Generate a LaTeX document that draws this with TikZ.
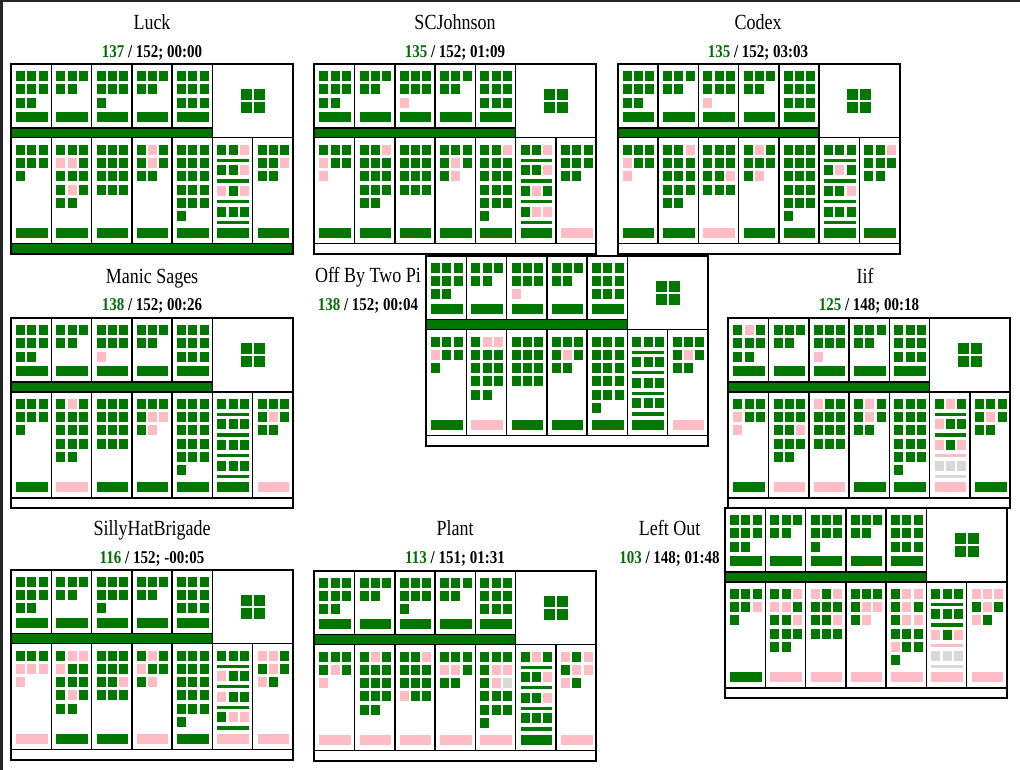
\documentclass[tikz,border=0pt]{standalone}
\usepackage{fontspec}
\setmainfont{Liberation Serif}
\definecolor{G}{RGB}{0,120,0}
\definecolor{P}{RGB}{255,188,196}
\definecolor{X}{RGB}{216,216,216}
\definecolor{W}{RGB}{255,255,255}
\definecolor{tgreen}{RGB}{0,110,0}
\newcommand\cw{40.286}
\newcommand\titlef[1]{\scalebox{1}[1.2]{\fontsize{18}{20}\selectfont #1}}
\newcommand\statf[2]{\scalebox{1}[1.2]{\fontsize{15}{18}\selectfont\bfseries\textcolor{tgreen}{#1} / #2}}
\newcommand\sqrows[3]{%
  \foreach \rw [count=\ri from 0] in {#3}{%
    \foreach \cc [count=\ki from 0] in \rw {%
      \fill[\cc] ({#1+5+11.3*\ki},{#2+13.3*\ri}) rectangle ++(9,10);
    }}}
\newcommand\tbox[3]{%
  \draw[cellb] ({\PX+\cw*#1},\PY) rectangle ++(\cw,63.7);
  \sqrows{\PX+\cw*#1}{\PY+6.7}{#2}
  \fill[#3] ({\PX+\cw*#1+5},{\PY+48}) rectangle ++(31.6,10);
}
\newcommand\bbox[3]{%
  \draw[cellb] ({\PX+\cw*#1},{\PY+73.5}) rectangle ++(\cw,106);
  \sqrows{\PX+\cw*#1}{\PY+80.5}{#2}
  \fill[#3] ({\PX+\cw*#1+5},{\PY+163.5}) rectangle ++(31.6,10);
}
\newcommand\cbox[3]{%
  \draw[cellb] ({\PX+\cw*5},{\PY+73.5}) rectangle ++(\cw,106);
  \foreach \rw [count=\ri from 0] in {#1}{%
    \foreach \cc [count=\ki from 0] in \rw {%
      \fill[\cc] ({\PX+\cw*5+5+11.3*\ki},{\PY+80.5+20.6*\ri}) rectangle ++(9,10);
    }}
  \foreach \cc [count=\ri from 0] in {#2}{%
    \fill[\cc] ({\PX+\cw*5+5},{\PY+94.5+20.6*\ri}) rectangle ++(31.6,3.2);}
  \fill[#3] ({\PX+\cw*5+5},{\PY+163.5}) rectangle ++(31.6,10);
}
\newcommand\toprow[2]{%
  \tbox{0}{#1}{G}
  \tbox{1}{{G,G,G},{G,G}}{G}
  \tbox{2}{{G,G,G},{G,G,G},{#2}}{G}
  \tbox{3}{{G,G,G},{G,G}}{G}
  \tbox{4}{{G,G,G},{G,G,G},{G,G,G}}{G}
}
\newcommand\panelstart[3]{%
  \def\PX{#1}\def\PY{#2}%
  \draw[cellb, fill=G] (\PX,{\PY+63.7}) rectangle ({\PX+\cw*5},{\PY+73.5});
  \draw[cellb] ({\PX+\cw*5},\PY) rectangle ({\PX+282},{\PY+73.5});
  \foreach \ri in {0,1}{\foreach \ki in {0,1}{%
    \fill[G] ({\PX+229.7+13*\ki},{\PY+25+13*\ri}) rectangle ++(11,11);}}
  \draw[cellb, fill=#3] (\PX,{\PY+179.5}) rectangle ({\PX+282},{\PY+190});
}
\newcommand\panelend{%
  \draw[outerb] (\PX,\PY) rectangle ({\PX+282},{\PY+190});
}
\tikzset{cellb/.style={draw=black, line width=1.4pt},
  outerb/.style={draw=black, line width=2.2pt}}
\begin{document}
\begin{tikzpicture}[x=1pt,y=-1pt]
\useasboundingbox (0,0) rectangle (1020,770);
\fill[white] (0,0) rectangle (1020,770);
\fill[black!85] (0,0) rectangle (3,770);
\fill[black!85] (0,0) rectangle (1020,1.7);

% ---------- Luck
\node[anchor=base] (tLuck) at (152,29.3) {\titlef{Luck}};
\node[anchor=base] (sLuck) at (152,57.3) {\statf{137}{152; 00:00}};
\panelstart{11}{64.3}{G}
\toprow{{G,G,G},{G,G,G},{G,G}}{G}
\bbox{0}{{G,G,G},{G,G,G},{G}}{G}
\bbox{1}{{G,G,G},{P,P,G},{G,G,G},{G,P,G},{G,G}}{G}
\bbox{2}{{G,G,G},{G,G,G},{G,G,G},{G,G,G}}{G}
\bbox{3}{{G,P,G},{G,P,G},{G,G}}{G}
\bbox{4}{{G,G,G},{G,G,G},{G,G,G},{G,G,G},{G,G,G},{G}}{G}
\cbox{{G,G,P},{G,G,P},{P,G,P},{G,G,G}}{G,G,G,G}{G}
\bbox{6}{{G,G,G},{G,G,P},{G,G}}{G}
\panelend

% ---------- SCJohnson
\node[anchor=base] (tSCJ) at (455,29.3) {\titlef{SCJohnson}};
\node[anchor=base] (sSCJ) at (455,57.3) {\statf{135}{152; 01:09}};
\panelstart{314.3}{64.3}{W}
\toprow{{G,G,G},{G,G,G},{G,G}}{P}
\bbox{0}{{G,G,G},{P,G,G},{P}}{G}
\bbox{1}{{G,G,P},{G,G,G},{G,G,G},{G,G,G},{G,G}}{G}
\bbox{2}{{G,G,G},{G,G,G},{G,G,G},{G,G,G}}{G}
\bbox{3}{{G,G,G},{G,P,G},{G,P}}{G}
\bbox{4}{{G,G,P},{G,G,G},{G,G,G},{G,G,G},{G,G,G},{G}}{G}
\cbox{{G,G,P},{G,G,P},{G,P,G},{G,P,P}}{G,G,G,G}{G}
\bbox{6}{{G,G,G},{G,G,G},{G,G}}{P}
\panelend

% ---------- Codex
\node[anchor=base] (tCodex) at (758,29.3) {\titlef{Codex}};
\node[anchor=base] (sCodex) at (758,57.3) {\statf{135}{152; 03:03}};
\panelstart{617.7}{64.3}{W}
\toprow{{G,G,G},{G,G,G},{G,G}}{P}
\bbox{0}{{G,G,G},{P,G,G},{P}}{G}
\bbox{1}{{G,G,P},{G,G,G},{G,G,G},{G,G,G},{G,G}}{G}
\bbox{2}{{G,G,G},{G,G,G},{G,G,P},{G,G,G}}{P}
\bbox{3}{{G,P,G},{G,G,G},{G,P}}{G}
\bbox{4}{{G,G,G},{G,G,G},{G,G,G},{G,G,G},{G,G,G},{G}}{G}
\cbox{{G,G,G},{G,P,G},{G,G,P},{G,G,G}}{G,G,G,G}{G}
\bbox{6}{{G,G,P},{G,G,G},{G,G}}{G}
\panelend

% ---------- Manic Sages
\node[anchor=base] (tManic) at (152,283.3) {\titlef{Manic Sages}};
\node[anchor=base] (sManic) at (152,310.5) {\statf{138}{152; 00:26}};
\panelstart{11}{318.3}{W}
\toprow{{G,G,G},{G,G,G},{G,G}}{P}
\bbox{0}{{G,G,G},{G,G,G},{G}}{G}
\bbox{1}{{G,P,G},{G,G,G},{G,G,G},{G,G,G},{G,G}}{P}
\bbox{2}{{G,G,G},{G,G,G},{G,G,G},{G,G,G}}{G}
\bbox{3}{{G,G,G},{G,P,P},{G,P}}{G}
\bbox{4}{{G,G,G},{G,G,G},{G,G,G},{G,G,G},{G,G,G},{G}}{G}
\cbox{{G,G,G},{G,G,G},{G,G,G},{G,G,G}}{G,G,G,G}{G}
\bbox{6}{{G,G,G},{G,P,G},{G,G}}{P}
\panelend

% ---------- Off By Two Pi
\node[anchor=base] (tOff) at (368,282.5) {\titlef{Off By Two Pi}};
\node[anchor=base] (sOff) at (368,310.5) {\statf{138}{152; 00:04}};
\panelstart{426}{256}{W}
\toprow{{G,G,G},{G,G,G},{G,G}}{P}
\bbox{0}{{G,G,G},{P,G,G},{G}}{G}
\bbox{1}{{G,P,P},{G,G,G},{G,G,G},{G,G,G},{G,G}}{P}
\bbox{2}{{G,G,G},{G,G,G},{G,G,G},{G,G,G}}{G}
\bbox{3}{{G,G,G},{G,P,G},{G,G}}{G}
\bbox{4}{{G,G,G},{G,G,G},{G,G,G},{G,G,G},{G,G,G},{G}}{G}
\cbox{{G,G,G},{G,G,G},{G,G,G},{G,G,G}}{G,G,G,G}{G}
\bbox{6}{{G,G,G},{G,P,G},{G,G}}{P}
\panelend

% ---------- Iif
\node[anchor=base] (tIif) at (865,283.3) {\titlef{Iif}};
\node[anchor=base] (sIif) at (869,310.5) {\statf{125}{148; 00:18}};
\panelstart{728.3}{318.3}{W}
\toprow{{G,P,G},{G,G,G},{G,G}}{P}
\bbox{0}{{G,G,G},{P,G,G},{P}}{G}
\bbox{1}{{G,G,G},{G,G,G},{G,G,P},{G,G,G},{G,G}}{P}
\bbox{2}{{P,G,G},{G,G,G},{G,G,G},{G,G,G}}{P}
\bbox{3}{{G,P,G},{G,P,G},{G,G}}{G}
\bbox{4}{{G,G,G},{G,G,G},{G,G,G},{G,G,G},{G,G,G},{G}}{G}
\cbox{{G,P,G},{P,G,G},{P,G,P},{X,X,X}}{G,G,P,X}{P}
\bbox{6}{{G,G,G},{G,P,G},{G,G}}{G}
\panelend

% ---------- SillyHatBrigade
\node[anchor=base] (tSilly) at (152,535.5) {\titlef{SillyHatBrigade}};
\node[anchor=base] (sSilly) at (152,563) {\statf{116}{152; -00:05}};
\panelstart{11}{570}{W}
\toprow{{G,G,G},{G,G,G},{G,G}}{G}
\bbox{0}{{G,G,G},{P,P,P},{P}}{P}
\bbox{1}{{G,P,P},{P,G,G},{G,G,G},{G,P,G},{G,G}}{G}
\bbox{2}{{G,G,G},{G,G,G},{G,G,P},{G,G,G}}{G}
\bbox{3}{{G,P,G},{P,G,G},{G,P}}{P}
\bbox{4}{{G,G,G},{G,G,G},{G,G,G},{G,G,G},{G,G,G},{G}}{G}
\cbox{{G,G,G},{P,G,G},{P,G,G},{G,P,P}}{G,G,G,G}{P}
\bbox{6}{{P,P,G},{G,P,G},{P,G}}{P}
\panelend

% ---------- Plant
\node[anchor=base] (tPlant) at (455,535.5) {\titlef{Plant}};
\node[anchor=base] (sPlant) at (455,563) {\statf{113}{151; 01:31}};
\panelstart{314.3}{571}{W}
\toprow{{G,G,G},{G,G,G},{G,G}}{G}
\bbox{0}{{G,G,G},{G,P,G},{P}}{P}
\bbox{1}{{G,P,G},{G,G,G},{G,G,G},{G,G,G},{G,G}}{P}
\bbox{2}{{G,G,P},{G,G,G},{G,G,G},{P,G,G}}{P}
\bbox{3}{{G,G,G},{P,P,G},{G,G}}{P}
\bbox{4}{{G,G,G},{G,P,P},{G,P,X},{G,G,G},{G,G,G},{G}}{P}
\cbox{{G,P,G},{G,G,P},{G,G,P},{G,G,G}}{G,G,G,G}{G}
\bbox{6}{{P,G,P},{G,P,P},{P,G}}{P}
\panelend

% ---------- Left Out
\node[anchor=base] (tLeft) at (669.5,535.5) {\titlef{Left Out}};
\node[anchor=base] (sLeft) at (669.5,563) {\statf{103}{148; 01:48}};
\panelstart{725}{508.3}{W}
\toprow{{G,G,G},{G,G,G},{G,G}}{G}
\bbox{0}{{G,G,G},{G,G,P},{G}}{G}
\bbox{1}{{G,G,P},{P,P,G},{G,G,P},{G,G,G},{G,G}}{P}
\bbox{2}{{P,G,P},{G,G,G},{G,G,P},{G,G,G}}{P}
\bbox{3}{{G,G,G},{G,P,P},{G,P}}{P}
\bbox{4}{{G,P,P},{G,P,G},{G,P,P},{G,G,G},{P,G,G},{G}}{P}
\cbox{{G,G,G},{G,G,G},{P,G,P},{X,X,X}}{G,G,P,X}{P}
\bbox{6}{{P,P,P},{G,P,G},{P,G}}{P}
\panelend
\end{tikzpicture}
\end{document}
